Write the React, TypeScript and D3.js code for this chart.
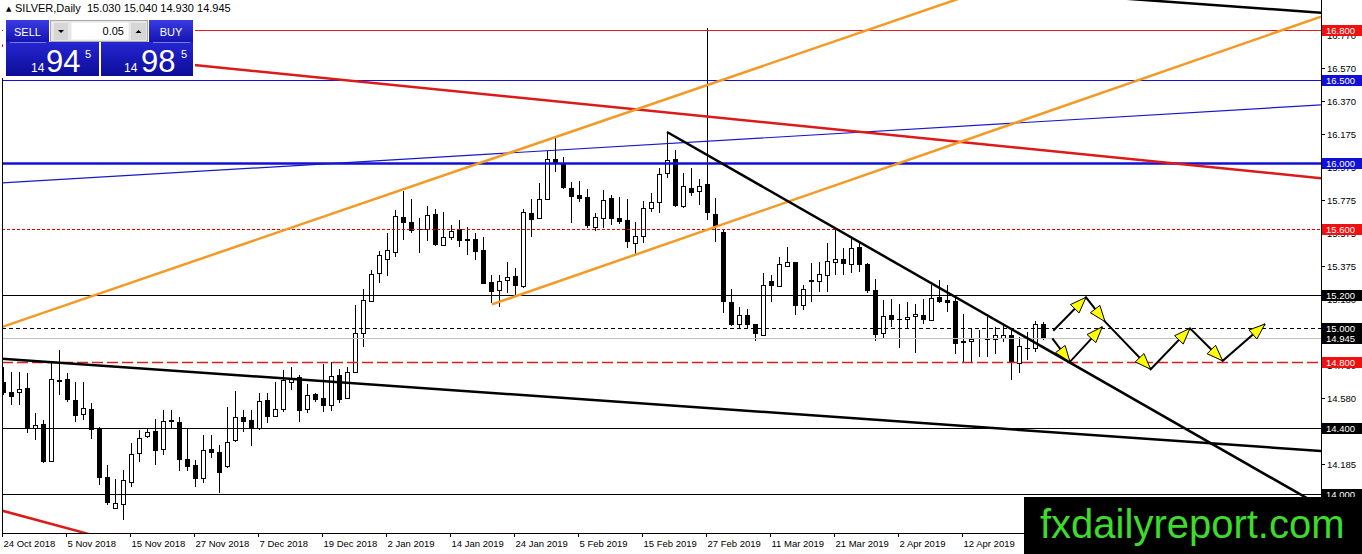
import React from 'react';
import * as d3 from 'd3';

// daily candles, 24 Oct 2018 .. 26 Apr 2019
const openPrices = [
  14.676, 14.615, 14.615, 14.639, 14.398, 14.422, 14.199, 14.688, 14.694, 14.567,
  14.482, 14.513, 14.398, 14.102, 13.915, 13.939, 14.072, 14.247, 14.350, 14.380,
  14.271, 14.446, 14.434, 14.211, 14.175, 14.096, 14.271, 14.253, 14.169, 14.326,
  14.464, 14.446, 14.398, 14.567, 14.470, 14.513, 14.676, 14.706, 14.513, 14.603,
  14.579, 14.537, 14.718, 14.579, 14.736, 14.971, 15.166, 15.332, 15.422, 15.462,
  15.670, 15.641, 15.599, 15.597, 15.690, 15.501, 15.553, 15.597, 15.540, 15.539,
  15.472, 15.281, 15.231, 15.291, 15.317, 15.255, 15.694, 15.664, 15.780, 16.020,
  15.996, 15.848, 15.804, 15.794, 15.613, 15.667, 15.788, 15.664, 15.653, 15.513,
  15.559, 15.728, 15.760, 15.935, 16.022, 15.738, 15.848, 15.828, 15.869, 15.688,
  15.579, 15.160, 15.024, 15.084, 15.024, 14.959, 15.285, 15.257, 15.378, 15.398,
  15.140, 15.291, 15.287, 15.321, 15.402, 15.422, 15.386, 15.492, 15.386, 15.235,
  14.970, 15.084, 15.056, 15.056, 15.076, 15.084, 15.054, 15.191, 15.171, 15.165,
  14.923, 14.925, 14.945, 14.939, 14.939, 14.945, 14.963, 14.792, 14.885, 14.885,
  15.030,
];
const highPrices = [
  14.766, 14.736, 14.736, 14.730, 14.489, 14.446, 14.790, 14.869, 14.730, 14.676,
  14.676, 14.549, 14.404, 14.175, 14.090, 14.145, 14.308, 14.386, 14.398, 14.452,
  14.507, 14.507, 14.464, 14.398, 14.205, 14.356, 14.356, 14.295, 14.525, 14.621,
  14.507, 14.507, 14.609, 14.609, 14.676, 14.748, 14.766, 14.718, 14.664, 14.609,
  14.784, 14.796, 14.754, 14.766, 15.140, 15.237, 15.352, 15.468, 15.573, 15.714,
  15.828, 15.780, 15.664, 15.738, 15.718, 15.704, 15.623, 15.657, 15.610, 15.573,
  15.549, 15.321, 15.321, 15.402, 15.362, 15.720, 15.780, 15.875, 16.072, 16.152,
  16.035, 15.881, 15.889, 15.840, 15.694, 15.834, 15.804, 15.794, 15.780, 15.643,
  15.768, 15.815, 15.965, 16.177, 16.076, 15.935, 15.965, 15.901, 16.812, 15.788,
  15.599, 15.237, 15.130, 15.120, 15.030, 15.332, 15.321, 15.432, 15.492, 15.402,
  15.261, 15.392, 15.402, 15.516, 15.593, 15.483, 15.543, 15.522, 15.392, 15.296,
  15.171, 15.175, 15.150, 15.160, 15.146, 15.175, 15.265, 15.291, 15.261, 15.201,
  15.090, 14.994, 14.990, 15.070, 15.010, 15.020, 15.000, 14.949, 14.979, 15.046,
  15.040,
];
const lowPrices = [
  14.597, 14.537, 14.537, 14.368, 14.326, 14.187, 14.193, 14.597, 14.555, 14.434,
  14.446, 14.332, 14.054, 13.933, 13.909, 13.843, 14.042, 14.193, 14.338, 14.175,
  14.235, 14.398, 14.139, 14.139, 14.042, 14.066, 14.217, 14.006, 14.157, 14.314,
  14.374, 14.289, 14.386, 14.428, 14.464, 14.495, 14.627, 14.434, 14.489, 14.555,
  14.495, 14.501, 14.549, 14.573, 14.730, 14.887, 15.160, 15.275, 15.317, 15.432,
  15.533, 15.573, 15.458, 15.527, 15.496, 15.501, 15.533, 15.492, 15.446, 15.412,
  15.271, 15.151, 15.130, 15.215, 15.197, 15.247, 15.553, 15.658, 15.774, 15.945,
  15.841, 15.637, 15.764, 15.603, 15.587, 15.603, 15.623, 15.633, 15.486, 15.448,
  15.513, 15.700, 15.694, 15.909, 15.734, 15.728, 15.800, 15.744, 15.653, 15.522,
  15.096, 15.015, 15.000, 15.000, 14.925, 14.959, 15.160, 15.251, 15.372, 15.084,
  15.114, 15.160, 15.221, 15.221, 15.321, 15.321, 15.332, 15.341, 15.211, 14.925,
  14.939, 15.010, 14.885, 14.994, 14.853, 15.026, 15.050, 15.151, 15.100, 14.849,
  14.798, 14.798, 14.828, 14.828, 14.849, 14.919, 14.692, 14.732, 14.809, 14.859,
  14.930,
];
const closePrices = [
  14.609, 14.585, 14.633, 14.398, 14.416, 14.193, 14.694, 14.676, 14.567, 14.470,
  14.519, 14.386, 14.096, 13.945, 13.945, 14.084, 14.241, 14.338, 14.374, 14.259,
  14.440, 14.434, 14.205, 14.163, 14.090, 14.265, 14.247, 14.127, 14.314, 14.464,
  14.434, 14.398, 14.561, 14.464, 14.513, 14.688, 14.700, 14.501, 14.597, 14.567,
  14.531, 14.712, 14.567, 14.736, 14.971, 15.171, 15.326, 15.442, 15.472, 15.677,
  15.637, 15.587, 15.592, 15.684, 15.502, 15.549, 15.587, 15.528, 15.528, 15.462,
  15.271, 15.221, 15.285, 15.311, 15.257, 15.704, 15.653, 15.778, 16.020, 15.996,
  15.845, 15.794, 15.780, 15.619, 15.670, 15.774, 15.658, 15.643, 15.519, 15.557,
  15.724, 15.760, 15.929, 16.015, 15.740, 15.859, 15.820, 15.860, 15.694, 15.613,
  15.160, 15.020, 15.080, 15.020, 14.964, 15.265, 15.257, 15.386, 15.402, 15.134,
  15.241, 15.281, 15.327, 15.408, 15.416, 15.388, 15.483, 15.382, 15.227, 14.959,
  15.076, 15.054, 15.050, 15.072, 15.090, 15.054, 15.181, 15.161, 15.154, 14.909,
  14.913, 14.939, 14.937, 14.933, 14.959, 14.959, 14.792, 14.893, 14.877, 15.024,
  14.945,
];

// one date label every 8 bars
const dateLabels = [
  '24 Oct 2018', '5 Nov 2018', '15 Nov 2018', '27 Nov 2018', '7 Dec 2018', '19 Dec 2018',
  '2 Jan 2019', '14 Jan 2019', '24 Jan 2019', '5 Feb 2019', '15 Feb 2019', '27 Feb 2019',
  '11 Mar 2019', '21 Mar 2019', '2 Apr 2019', '12 Apr 2019',
];

const priceTicks = [
  16.77, 16.57, 16.37, 16.175, 15.975, 15.775, 15.575, 15.375,
  15.18, 14.98, 14.78, 14.58, 14.385, 14.185, 13.985,
];

// horizontal levels drawn on the chart
const levelPrices = [16.8, 16.5, 16.0, 15.6, 15.2, 15.0, 14.945, 14.8, 14.4, 14.0];

// trend lines: [bar, price] pairs
const orangeUpper = [[-0.44, 15.005], [119.56, 16.991]];
const orangeLower = [[61.06, 15.145], [164.69, 16.88]];
const redFalling = [[-0.44, 16.707], [164.69, 15.906]];
const redBottom = [[-0.44, 13.905], [12.06, 13.742]];
const blueRising = [[-0.44, 15.877], [164.69, 16.348]];
const blackChannelLow = [[-0.44, 14.819], [164.69, 14.261]];
const blackChannelHigh = [[137.06, 17.0], [164.69, 16.904]];
const blackResistance = [[82.94, 16.185], [164.69, 13.928]];

// projected zig-zag arrows
const arrowsUpper = [[131.22, 14.986], [135.31, 15.188], [137.69, 15.041], [143.4, 14.754], [148.31, 15.001], [152.4, 14.805], [157.69, 15.027]];
const arrowsLower = [[131.1, 14.94], [133.31, 14.799], [137.35, 15.01]];

const W = 1362;
const H = 554;
const PLOT_L = 2;
const PLOT_R = 1321;
const PLOT_B = 533;
const FONT = 'Liberation Sans, Arial, sans-serif';

const LEVEL_STYLES = [
  { color: '#e81c1c', width: 1, dash: undefined, box: '#f01010' },
  { color: '#1010e0', width: 1, dash: undefined, box: '#1010d8' },
  { color: '#1010d8', width: 2.5, dash: undefined, box: '#1010d8' },
  { color: '#e00000', width: 1, dash: '3,2', box: '#f01010' },
  { color: '#000', width: 1, dash: undefined, box: '#000' },
  { color: '#000', width: 1, dash: '4,3', box: '#000' },
  { color: '#c0c0c0', width: 1, dash: undefined, box: '#000' },
  { color: '#d82020', width: 1.5, dash: '11,4', box: '#f01010' },
  { color: '#000', width: 1, dash: undefined, box: '#000' },
  { color: '#000', width: 1, dash: undefined, box: '#000' },
];

function arrowHead(x0: number, y0: number, x1: number, y1: number) {
  const dx = x1 - x0, dy = y1 - y0;
  const len = Math.hypot(dx, dy);
  const ux = dx / len, uy = dy / len;
  const L = 16, hw = 6;
  const bx = x1 - ux * L, by = y1 - uy * L;
  return `M${x1},${y1}L${bx - uy * hw},${by + ux * hw}L${bx + uy * hw},${by - ux * hw}Z`;
}

export default function App() {
  const x = d3.scaleLinear().domain([0, 130]).range([3.5, 1043.5]);
  const y = d3.scaleLinear().domain([14.0, 16.8]).range([494.3, 30]);
  const fmt = d3.format('.3f');
  const line = d3.line<number[]>().x(d => x(d[0])).y(d => y(d[1]));

  const trend = (pts: number[][], color: string, width: number, key: string) => (
    <path key={key} d={line(pts) || ''} stroke={color} strokeWidth={width} fill="none" />
  );

  const arrowGroup = (pts: number[][], key: string) => (
    <g key={key}>
      <path d={line(pts) || ''} stroke="#000" strokeWidth={2} fill="none" />
      {pts.slice(1).map((p, i) => (
        <path
          key={i}
          d={arrowHead(x(pts[i][0]), y(pts[i][1]), x(p[0]), y(p[1]))}
          fill="#ffff00"
          stroke="#000"
          strokeWidth={1}
        />
      ))}
    </g>
  );

  return (
    <div style={{ position: 'absolute', left: 0, top: 0, width: W, height: H, background: '#fff' }}>
      <svg width={W} height={H} style={{ display: 'block' }} fontFamily={FONT}>
        <defs>
          <clipPath id="plot">
            <rect x={PLOT_L} y={0} width={PLOT_R - PLOT_L} height={PLOT_B} />
          </clipPath>
          <linearGradient id="btnGrad" x1="0" y1="0" x2="0" y2="1">
            <stop offset="0" stopColor="#3b3be4" />
            <stop offset="1" stopColor="#1414b0" />
          </linearGradient>
          <linearGradient id="pxGrad" x1="0" y1="0" x2="0" y2="1">
            <stop offset="0" stopColor="#2626d2" />
            <stop offset="1" stopColor="#0c0c98" />
          </linearGradient>
        </defs>

        <g clipPath="url(#plot)">
          {/* candles */}
          <g shapeRendering="crispEdges">
            {openPrices.map((o, i) => {
              const c = closePrices[i];
              const cx = x(i);
              const top = Math.round(y(Math.max(o, c)));
              const bot = Math.round(y(Math.min(o, c)));
              const up = c > o;
              return (
                <g key={i}>
                  <line x1={cx} x2={cx} y1={y(highPrices[i])} y2={y(lowPrices[i])} stroke="#000" />
                  {up ? (
                    <rect x={cx - 2} y={top + 0.5} width={4} height={Math.max(bot - top, 1)} fill="#fff" stroke="#000" />
                  ) : (
                    <rect x={cx - 2.5} y={top} width={5} height={Math.max(bot - top, 1)} fill="#000" />
                  )}
                </g>
              );
            })}
          </g>

          {/* horizontal levels */}
          {levelPrices.map((p, i) => {
            const s = LEVEL_STYLES[i];
            const yy = Math.round(y(p)) + 0.5;
            return (
              <line key={p} x1={PLOT_L} x2={PLOT_R} y1={yy} y2={yy} stroke={s.color}
                strokeWidth={s.width} strokeDasharray={s.dash} />
            );
          })}

          {/* trend lines */}
          {trend(blueRising, '#1818c8', 1.2, 'blue')}
          {trend(redFalling, '#dd1a1a', 2.5, 'red')}
          {trend(redBottom, '#dd1a1a', 2.5, 'redb')}
          {trend(orangeUpper, '#f39a26', 2.5, 'ou')}
          {trend(orangeLower, '#f39a26', 2.5, 'ol')}
          {trend(blackChannelLow, '#000', 2.5, 'bl')}
          {trend(blackChannelHigh, '#000', 2.5, 'bh')}
          {trend(blackResistance, '#000', 2.5, 'br')}

          {arrowGroup(arrowsUpper, 'au')}
          {arrowGroup(arrowsLower, 'al')}
        </g>

        {/* frame */}
        <g shapeRendering="crispEdges" stroke="#000">
          <line x1={PLOT_L + 0.5} x2={PLOT_L + 0.5} y1={78} y2={PLOT_B + 0.5} />
          <line x1={PLOT_R + 0.5} x2={PLOT_R + 0.5} y1={0} y2={PLOT_B + 0.5} />
          <line x1={PLOT_L} x2={PLOT_R} y1={PLOT_B + 0.5} y2={PLOT_B + 0.5} />
        </g>

        {/* price axis */}
        {priceTicks.map(t => {
          const yy = Math.round(y(t)) + 0.5;
          return (
            <g key={t}>
              <line x1={PLOT_R} x2={PLOT_R + 4} y1={yy} y2={yy} stroke="#000" shapeRendering="crispEdges" />
              <text x={PLOT_R + 6} y={yy + 3.5} fontSize={9.5} fill="#000">{fmt(t)}</text>
            </g>
          );
        })}
        {levelPrices.map((p, i) => {
          const yy = Math.round(y(p));
          return (
            <g key={p}>
              <rect x={PLOT_R + 1} y={yy - 5} width={W - PLOT_R} height={11} fill={LEVEL_STYLES[i].box} />
              <text x={PLOT_R + 5} y={yy + 4} fontSize={9.5} fill="#fff">{fmt(p)}</text>
            </g>
          );
        })}

        {/* time axis */}
        {dateLabels.map((d, k) => {
          const xx = Math.round(x(k * 8)) - 1.5;
          return (
            <g key={d}>
              <line x1={xx} x2={xx} y1={PLOT_B} y2={PLOT_B + 4} stroke="#000" shapeRendering="crispEdges" />
              <text x={xx + 1} y={547} fontSize={9.5} fill="#000">{d}</text>
            </g>
          );
        })}

        {/* header */}
        <text x={6} y={11} fontSize={7} fontFamily="DejaVu Sans" fill="#000">▲</text>
        <text x={15} y={12} fontSize={11} fill="#000" style={{ whiteSpace: 'pre' }}>
          SILVER,Daily  15.030 15.040 14.930 14.945
        </text>

        {/* one-click trading panel */}
        <g>
          <rect x={3} y={18} width={192} height={60} fill="#fff" />
          <rect x={6} y={20} width={43} height={22} fill="url(#btnGrad)" />
          <text x={27.5} y={35.5} fontSize={11} fill="#fff" textAnchor="middle">SELL</text>
          <rect x={50.5} y={20.5} width={97} height={21} fill="#e6e6e6" stroke="#a8a8a8" />
          <rect x={54} y={23} width={14} height={17} fill="#d6d6d6" />
          <path d="M58,30 L64,30 L61,33 Z" fill="#000" />
          <rect x={71.5} y={22.5} width={57} height={17} fill="#fff" />
          <text x={124} y={35} fontSize={11} fill="#000" textAnchor="end">0.05</text>
          <rect x={131} y={23} width={15} height={17} fill="#d6d6d6" />
          <path d="M135.5,33 L141.5,33 L138.5,30 Z" fill="#000" />
          <rect x={149} y={20} width={44} height={22} fill="url(#btnGrad)" />
          <text x={171} y={35.5} fontSize={11} fill="#fff" textAnchor="middle">BUY</text>

          <rect x={6} y={42} width={93} height={34} fill="url(#pxGrad)" />
          <rect x={101} y={42} width={92} height={34} fill="url(#pxGrad)" />
          <line x1={10} x2={46} y1={42.5} y2={42.5} stroke="#7a7ae8" />
          <line x1={153} x2={190} y1={42.5} y2={42.5} stroke="#7a7ae8" />

          <text x={31} y={71.5} fontSize={12} fill="#fff">14</text>
          <text x={46} y={71.5} fontSize={31} fill="#fff">94</text>
          <text x={85} y={58} fontSize={11} fill="#fff">5</text>
          <text x={124} y={71.5} fontSize={12} fill="#fff">14</text>
          <text x={141} y={71.5} fontSize={31} fill="#fff">98</text>
          <text x={181} y={58} fontSize={11} fill="#fff">5</text>
        </g>

        {/* watermark */}
        <rect x={1024} y={497} width={W - 1024} height={H - 497} fill="#000" />
        <text x={1040} y={538} fontSize={40} fill="#3ddc2b">fxdailyreport.com</text>
      </svg>
    </div>
  );
}
